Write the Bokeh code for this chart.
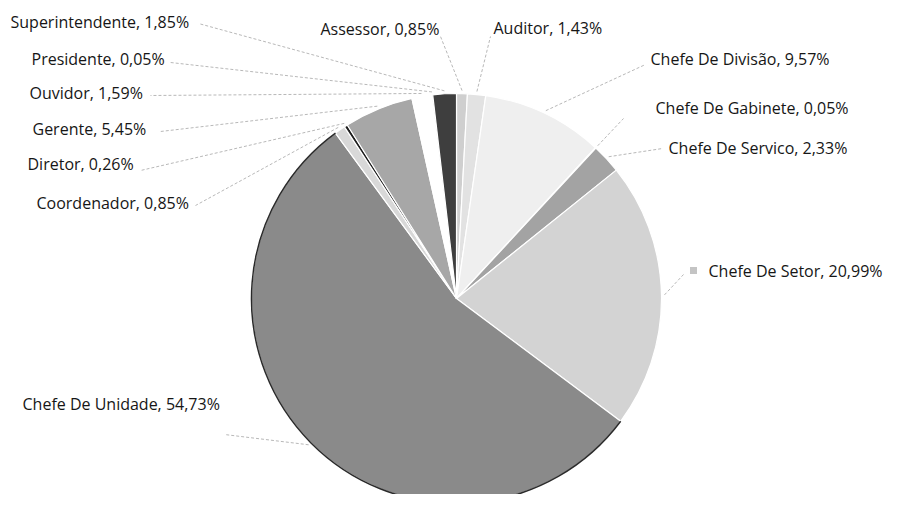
import math
from bokeh.plotting import figure
from bokeh.models import ColumnDataSource, Range1d
from bokeh.core.properties import value
from bokeh.embed import file_html
from bokeh.resources import INLINE

# ---- data ----
categories = ["Assessor", "Auditor", "Chefe De Divisão", "Chefe De Gabinete",
              "Chefe De Servico", "Chefe De Setor", "Chefe De Unidade",
              "Coordenador", "Diretor", "Gerente", "Ouvidor", "Presidente",
              "Superintendente"]
percentages = [0.85, 1.43, 9.57, 0.05, 2.33, 20.99, 54.73, 0.85, 0.26, 5.45,
               1.59, 0.05, 1.85]

# ---- styles / layout ----
slice_colors = ["#cfcfcf", "#e2e2e2", "#efefef", "#bdbdbd", "#a3a3a3", "#d3d3d3",
                "#8a8a8a", "#d8d8d8", "#1e1e1e", "#a7a7a7", "#ffffff", "#707070",
                "#3e3e3e"]
# label anchor (left x, middle y) in image pixels
label_x = [320, 493, 650, 655, 668, 708, 22, 36, 27, 32, 29, 31, 10]
label_y = [28, 27, 58, 107, 147, 270, 403, 202, 163, 128, 92, 58, 21]
# leader-line outer end (image pixels)
lead_x = [440, 490, 645, 623, 662, 683, 224, 195, 140, 160, 150, 170, 198]
lead_y = [36, 36, 64, 118, 148, 274, 434, 205, 170, 131, 95, 62, 23]

cx, cy, R = 456, 298, 205

W, H = 887, 494
p = figure(width=W, height=H, output_backend="svg", toolbar_location=None,
           x_range=Range1d(0, W), y_range=Range1d(-H, 0),
           min_border=0, outline_line_color=None, background_fill_color="white")
p.axis.visible = False
p.grid.visible = False

total = sum(percentages)
starts, ends, mids = [], [], []
acc = 0.0
for v in percentages:
    a0 = acc / total
    acc += v
    a1 = acc / total
    starts.append(math.pi / 2 - 2 * math.pi * a0)
    ends.append(math.pi / 2 - 2 * math.pi * a1)
    mids.append(math.pi / 2 - 2 * math.pi * (a0 + a1) / 2)

src = ColumnDataSource(dict(cat=categories, pct=percentages, start=starts, end=ends,
                            color=slice_colors))
p.wedge(x=cx, y=-cy, radius=R, start_angle="start", end_angle="end",
        direction="clock", fill_color="color", line_color="white", line_width=1.2,
        source=src)

# dark outline on the largest slice's outer edge
iu = categories.index("Chefe De Unidade")
p.arc(x=cx, y=-cy, radius=R, start_angle=starts[iu], end_angle=ends[iu],
      direction="clock", line_color="#2a2a2a", line_width=1.5)

# leader lines
xs, ys = [], []
for m, lx, ly in zip(mids, lead_x, lead_y):
    px = cx + (R + 3) * math.cos(m)
    py = -cy + (R + 3) * math.sin(m)
    xs.append([px, lx])
    ys.append([py, -ly])
p.multi_line(xs=xs, ys=ys, line_color="#b8b8b8", line_width=1, line_dash="3 2")

texts = [f"{c}, {v:.2f}".replace(".", ",") + "%" for c, v in zip(categories, percentages)]
p.text(x=label_x, y=[-y for y in label_y], text=texts,
       text_font=value("Open Sans"), text_font_size="16px",
       text_baseline="middle", text_align="left", text_color="#161616")

# small legend key next to the Chefe De Setor label
isetor = categories.index("Chefe De Setor")
p.scatter(x=[label_x[isetor] - 15], y=[-label_y[isetor]], marker="square", size=7,
          fill_color="#c4c4c4", line_color=None)

open("out.html", "w").write(file_html(p, INLINE))
